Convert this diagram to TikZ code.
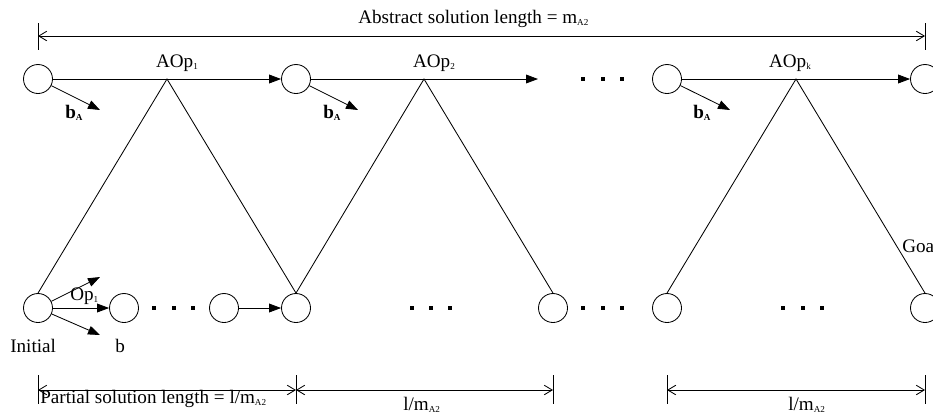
\documentclass[tikz,border=0pt]{standalone}
\usepackage{fontspec}
\setmainfont{Liberation Serif}
\usepackage{tikz}
\usetikzlibrary{arrows.meta, positioning, calc}
\newcommand{\lowidx}[1]{\raisebox{-0.3ex}{\fontsize{6.5}{7}\selectfont #1}}
\tikzset{
  state/.style={circle, draw, minimum size=0.725cm, inner sep=0pt, line width=0.6pt},
  arrow/.style={-{Triangle[length=0.3cm, width=0.22cm]}, line width=0.6pt},
  line/.style={line width=0.6pt},
  dimline/.style={{Straight Barb[length=0.2cm, width=0.24cm]}-{Straight Barb[length=0.2cm, width=0.24cm]}, line width=0.6pt},
  lbl/.style={anchor=base west, inner sep=0pt}
}

\begin{document}
\begin{tikzpicture}[every node/.style={font=\fontsize{13.6}{15}\selectfont}]
  \useasboundingbox (0,0) rectangle (23.325,-10.35);

  % --- Abstract level ---
  \node[state] (a1) at (0.95,-1.975) {};
  \node[state] (a2) at (7.4,-1.975) {};
  \node[state] (ak) at (16.675,-1.975) {};
  \node[state] (ag) at (23.125,-1.975) {};
  \coordinate (a2end) at (13.45,-1.975);
  \coordinate (top1) at (4.175,-1.975);
  \coordinate (top2) at (10.6,-1.975);
  \coordinate (topk) at (19.9,-1.975);

  \draw[arrow] (a1) -- (a2);
  \draw[arrow] (a2) -- (a2end);
  \draw[arrow] (ak) -- (ag);

  \node[anchor=base, inner sep=0pt] (aop1) at (4.425,-1.675) {AOp\lowidx{1}};
  \node[anchor=base, inner sep=0pt] (aop2) at (10.85,-1.675) {AOp\lowidx{2}};
  \node[anchor=base, inner sep=0pt] (aopk) at (19.75,-1.675) {AOp\lowidx{k}};

  % b_A branches
  \coordinate (ba1) at (2.5,-2.75);
  \coordinate (ba2) at (8.95,-2.75);
  \coordinate (bak) at (18.25,-2.75);
  \draw[arrow] (a1) -- (ba1);
  \draw[arrow] (a2) -- (ba2);
  \draw[arrow] (ak) -- (bak);
  \node[lbl] (lba1) at (1.625,-2.95) {\textbf{b\lowidx{A}}};
  \node[lbl] (lba2) at (8.075,-2.95) {\textbf{b\lowidx{A}}};
  \node[lbl] (lbak) at (17.325,-2.95) {\textbf{b\lowidx{A}}};

  % --- Ground level ---
  \node[state] (init) at (0.95,-7.7) {};
  \node[state] (p1) at (3.1,-7.7) {};
  \node[state] (p2) at (5.6,-7.7) {};
  \node[state] (g1) at (7.4,-7.7) {};
  \node[state] (g2) at (13.825,-7.7) {};
  \node[state] (g3) at (16.675,-7.7) {};
  \node[state] (goal) at (23.125,-7.7) {};

  \coordinate (bup) at (2.5,-6.925);
  \coordinate (bdown) at (2.5,-8.375);
  \draw[arrow] (init) -- (bup);
  \draw[arrow] (init) -- (p1);
  \draw[arrow] (init) -- (bdown);
  \draw[arrow] (p2) -- (g1);

  \node[lbl] (op1) at (1.75,-7.5) {Op\lowidx{1}};
  \node[lbl] (initial) at (0.25,-8.8) {Initial};
  \node[lbl] (lb) at (2.875,-8.8) {b};
  \node[lbl] (lgoal) at (22.55,-6.3) {Goal};

  % Refinement lines
  \draw[line] (init.north) -- (top1) -- (g1.north);
  \draw[line] (g1.north) -- (top2) -- (g2.north);
  \draw[line] (g3.north) -- (topk) -- (goal.north);

  % Ellipsis dots
  \foreach \x/\y in {14.575/-1.975, 15.075/-1.975, 15.55/-1.975,
                     3.85/-7.7, 4.35/-7.7, 4.825/-7.7,
                     10.3/-7.7, 10.775/-7.7, 11.25/-7.7,
                     14.575/-7.7, 15.075/-7.7, 15.55/-7.7,
                     19.575/-7.7, 20.075/-7.7, 20.55/-7.7}
    \fill (\x-0.04,\y-0.04) rectangle ++(0.08,0.08);

  % --- Length measures ---
  \coordinate (dtl) at (0.95,-0.9);
  \coordinate (dtr) at (23.125,-0.9);
  \draw[dimline] (dtl) -- (dtr);
  \foreach \x in {0.95, 23.125}
    \draw[line] (\x,-0.575) -- (\x,-1.25);
  \node[lbl] (absl) at (8.95,-0.575) {Abstract solution length = m\lowidx{A2}};

  \coordinate (db1) at (0.95,-9.75);
  \coordinate (db2) at (7.4,-9.75);
  \coordinate (db3) at (13.825,-9.75);
  \coordinate (db4) at (16.675,-9.75);
  \coordinate (db5) at (23.125,-9.75);
  \draw[dimline] (db1) -- (db2);
  \draw[dimline] (db2) -- (db3);
  \draw[dimline] (db4) -- (db5);
  \foreach \x in {0.95, 7.4, 13.825, 16.675, 23.125}
    \draw[line] (\x,-9.375) -- (\x,-10.1);
  \node[lbl] (partl) at (1.0,-10.075) {Partial solution length = l/m\lowidx{A2}};
  \node[lbl] (seg2) at (10.075,-10.25) {l/m\lowidx{A2}};
  \node[lbl] (seg3) at (19.7,-10.25) {l/m\lowidx{A2}};
\end{tikzpicture}
\end{document}
